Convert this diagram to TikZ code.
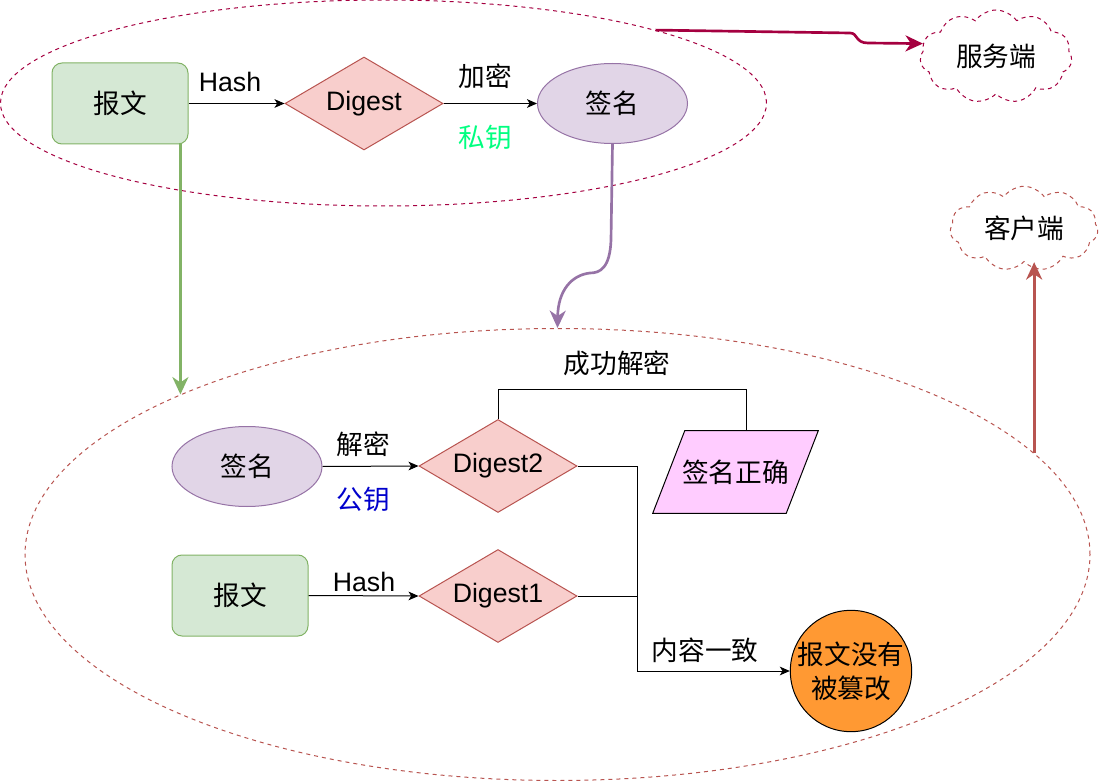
\documentclass[tikz,border=0pt]{standalone}
\usepackage{fontspec}
\setmainfont{Liberation Sans}
\newfontfamily\cjk{Noto Sans CJK SC}
\usetikzlibrary{shapes.geometric,shapes.symbols,arrows.meta,calc,backgrounds}
\definecolor{crim}{HTML}{A50040}
\definecolor{redst}{HTML}{B85450}
\definecolor{redfill}{HTML}{F8CECC}
\definecolor{grfill}{HTML}{D5E8D4}
\definecolor{grst}{HTML}{82B366}
\definecolor{pufill}{HTML}{E1D5E7}
\definecolor{pust}{HTML}{9673A6}
\definecolor{pinkfill}{HTML}{FFCCFF}
\definecolor{orng}{HTML}{FF9933}
\definecolor{keygreen}{HTML}{00FF80}
\definecolor{keyblue}{HTML}{0000CC}
\begin{document}
\begin{tikzpicture}[x=0.75pt,y=-0.75pt,
 lat/.style={font=\fontsize{20}{24}\selectfont},
 zh/.style={font=\cjk\fontsize{20}{25.5}\selectfont},
 msgbox/.style={zh, rectangle, rounded corners=7.5pt, draw=grst, fill=grfill, line width=0.75pt, minimum width=102pt, minimum height=60.75pt},
 dgbox/.style={lat, diamond, shape aspect=1.7, draw=redst, fill=redfill, line width=0.75pt, minimum width=118.5pt, minimum height=69.75pt, inner sep=0pt},
 sigbox/.style={zh, ellipse, draw=pust, fill=pufill, line width=0.75pt, minimum width=112.5pt, minimum height=60pt},
 region/.style={ellipse, dash pattern=on 3pt off 3pt, line width=0.75pt, inner sep=0pt},
 cloudbox/.style={zh, cloud, cloud puffs=11, cloud puff arc=110, aspect=1.6, dash pattern=on 3pt off 3pt, line width=0.75pt, inner sep=0pt},
 conn/.style={line width=0.75pt, -{Stealth[length=7.5pt,width=6.5pt,inset=2pt]}},
 plainline/.style={line width=0.75pt},
 fatarrow/.style={line width=2pt, -{Stealth[length=13pt,width=12pt,inset=4pt]}},
 lbl/.style={zh, inner sep=0pt},
 latlbl/.style={lat, inner sep=0pt}
]
\useasboundingbox (0,0) rectangle (1104,781);

% regions
\node[region, draw=crim, minimum width=574.5pt, minimum height=154.5pt] (topEll) at (383.5,103) {};
\node[region, draw=redst, minimum width=798.75pt, minimum height=339pt] (botEll) at (557.5,554.5) {};

% clouds
\node[cloudbox, draw=crim, minimum width=114pt, minimum height=69.75pt] (srv) at (996,56.5) {服务端};
\node[cloudbox, draw=redst, minimum width=111pt, minimum height=62.25pt] (cli) at (1024,228.5) {客户端};

% top row
\node[msgbox] (msgTop) at (120,103.5) {报文};
\node[dgbox] (dg) at (364,103.5) {Digest};
\node[sigbox] (sigTop) at (612.5,103.5) {签名};

\draw[conn] (msgTop.east) -- (dg.west);
\node[latlbl] (hashTop) at (230,82) {Hash};
\draw[conn] (dg.east) -- (sigTop.west);
\node[lbl] (encLbl) at (485,76) {加密};
\node[lbl, text=keygreen] (privLbl) at (485,137) {私钥};

% bottom area
\node[sigbox] (sigBot) at (247,466.5) {签名};
\node[dgbox] (dg2) at (498,466) {Digest2};
\node[msgbox] (msgBot) at (240,595.5) {报文};
\node[dgbox] (dg1) at (498,596) {Digest1};
\node[zh, minimum width=123.75pt, minimum height=61.5pt, inner sep=0pt] (ok) at (735.5,472) {签名正确};
\begin{scope}[on background layer]
\draw[fill=pinkfill, line width=0.75pt] (ok.south west) -- ([xshift=24pt]ok.north west) -- (ok.north east) -- ([xshift=-24pt]ok.south east) -- cycle;
\end{scope}
\node[zh, circle, draw=black, fill=orng, line width=0.75pt, minimum size=90.75pt, inner sep=0pt, align=center] (res) at (851,671) {报文没有\\被篡改};

\draw[conn] (sigBot.east) -- (dg2.west);
\node[lbl] (decLbl) at (363,444) {解密};
\node[lbl, text=keyblue] (pubLbl) at (363,499) {公钥};
\draw[conn] (msgBot.east) -- (dg1.west);
\node[latlbl] (hashBot) at (364,582) {Hash};

\draw[plainline] (dg2.north) -- ++(0,-30) -| ([xshift=7.875pt]ok.north);
\node[lbl] (succLbl) at (617,363) {成功解密};
\draw[conn] (dg2.east) -- (637,466) |- (res.west);
\draw[plainline] (dg1.east) -- (637,596);
\node[lbl] (sameLbl) at (705,650) {内容一致};

% thick arrows
\coordinate (gEnd) at (botEll.157);
\draw[fatarrow, draw=grst] (gEnd |- msgTop.south) -- (gEnd);
\draw[fatarrow, draw=pust] (sigTop.south) -- (611,240) .. controls (610,268) and (600,273) .. (590,273) .. controls (572,275) and (558,290) .. (botEll.north);
\draw[fatarrow, draw=crim] (topEll.15) -- (850,33) .. controls (858,33) and (855,43) .. (868,43) -- (srv.170);
\draw[fatarrow, draw=redst] (botEll.12.5) -- (botEll.12.5 |- cli.south);
\end{tikzpicture}
\end{document}
